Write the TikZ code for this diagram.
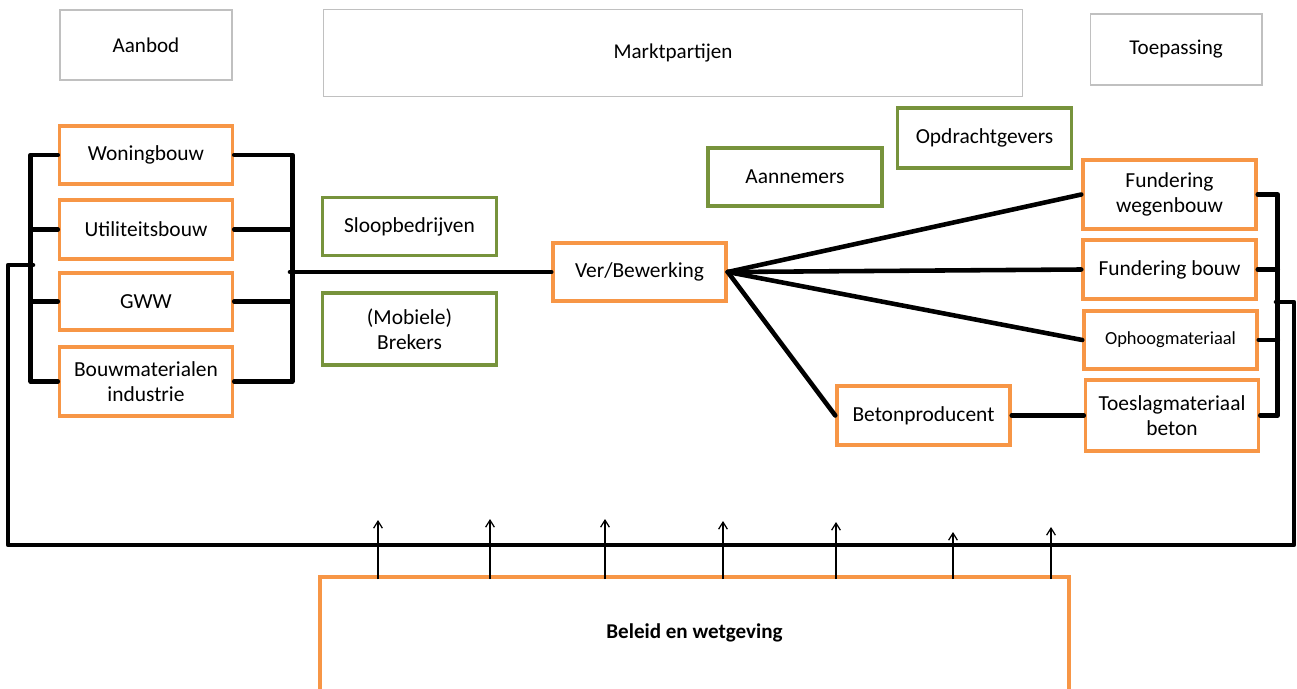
\documentclass[tikz,border=0pt]{standalone}
\usepackage{fontspec}
\setmainfont{Carlito}
\usetikzlibrary{arrows.meta}
\definecolor{boxorange}{RGB}{247,150,70}
\definecolor{boxgreen}{RGB}{119,147,60}
\definecolor{boxgray}{RGB}{192,192,192}
\tikzset{
	headbox/.style={draw=boxgray, line width=0.6pt, minimum width=3.44cm, minimum height=1.4cm, font=\fontsize{12}{14}\selectfont},
	orangebox/.style={draw=boxorange, line width=2pt, minimum width=3.46cm, minimum height=1.16cm, align=center, font=\fontsize{12.2}{14}\selectfont},
	greenbox/.style={draw=boxgreen, line width=2pt, minimum width=3.48cm, minimum height=1.16cm, align=center, font=\fontsize{12.2}{14}\selectfont},
	bus/.style={line width=2.6pt, line cap=round, line join=round},
	uparrow/.style={line width=0.7pt, -{Straight Barb[length=4pt,width=5pt]}}
}
\begin{document}
\begin{tikzpicture}[x=0.02cm, y=-0.02cm]
			%%%%% START %%%%%
			\useasboundingbox (0,0) rectangle (1297,689);
			\clip (0,0) rectangle (1297,689);
			
			% kopjes
			\node[headbox] (aanbod) at (146,45) {Aanbod};
			\node[headbox, minimum width=14cm, minimum height=1.74cm] (markt) at (673,53) {Marktpartijen};
			\node[headbox, minimum height=1.42cm] (toepassing) at (1176,49.5) {Toepassing};
			
			% aanbod
			\node[orangebox] (woning) at (146,155) {Woningbouw};
			\node[orangebox, minimum height=1.18cm] (utiliteit) at (146,229.5) {Utiliteitsbouw};
			\node[orangebox, minimum height=1.14cm] (gww) at (146,301.5) {GWW};
			\node[orangebox, minimum height=1.38cm] (bouwmat) at (146,381.5) {Bouwmaterialen\\industrie};
			
			% marktpartijen
			\node[greenbox] (sloop) at (409.5,226.5) {Sloopbedrijven};
			\node[greenbox, minimum height=1.44cm] (brekers) at (409.5,329) {(Mobiele)\\Brekers};
			\node[greenbox] (aannemers) at (795,177) {Aannemers};
			\node[greenbox, minimum height=1.2cm] (opdracht) at (984.5,138) {Opdrachtgevers};
			
			\node[orangebox] (ver) at (639.5,272) {Ver/Bewerking};
			\node[orangebox, minimum height=1.18cm] (beton) at (923.5,415.5) {Betonproducent};
			
			% toepassing
			\node[orangebox, minimum height=1.38cm] (fundweg) at (1169.5,194.5) {Fundering\\wegenbouw};
			\node[orangebox, minimum height=1.18cm] (fundbouw) at (1169.5,269.5) {Fundering bouw};
			\node[orangebox, font=\fontsize{10.5}{12}\selectfont] (ophoog) at (1170.5,340) {Ophoogmateriaal};
			\node[orangebox, minimum height=1.42cm] (toeslag) at (1172,415.5) {Toeslagmateriaal\\beton};
			
			% beleid
			\node[draw=boxorange, line width=2pt, minimum width=14.98cm, minimum height=3cm, anchor=north] (beleid) at (694.5,575) {};
			\node[font=\bfseries\fontsize{12}{14}\selectfont] (beleidtxt) at (694.5,633) {Beleid en wetgeving};
			
			% verbindingen links
			\draw[bus] (woning.west) -- +(-27,0) |- (bouwmat.west);
			\draw[bus] (utiliteit.west) -- +(-27,0);
			\draw[bus] (gww.west) -- +(-27,0);
			\draw[bus] (woning.east) -- +(58,0) |- (bouwmat.east);
			\draw[bus] (utiliteit.east) -- +(58,0);
			\draw[bus] (gww.east) -- +(58,0);
			\coordinate (lbus) at (290,272);
			\draw[bus] (lbus) -- (ver.west);
			
			% verbindingen rechts
			\draw[bus] (ver.east) -- (fundweg.west);
			\draw[bus] (ver.east) -- (fundbouw.west);
			\draw[bus] (ver.east) -- (ophoog.west);
			\draw[bus] (ver.east) -- (beton.west);
			\draw[bus] (beton.east) -- (toeslag.west);
			\draw[bus] (fundweg.east) -- +(20,0) |- (toeslag.east);
			\draw[bus] (fundbouw.east) -- +(20,0);
			\draw[bus] (ophoog.east) -- +(19,0);
			
			% terugkoppeling
			\coordinate (fbl) at (33,265);
			\coordinate (fbr) at (1276,302);
			\draw[bus] (fbl) -- (8,265) -- (8,545) -- (1294,545) -- (1294,302) -- (fbr);
			
			% pijlen
			\foreach \x/\t in {378/520, 490/519, 605/519, 723/521, 836/522, 953/532, 1051/527}
				\draw[uparrow] (\x,579) -- (\x,\t);
			
			%%%%% END %%%%%
\end{tikzpicture}
\end{document}
